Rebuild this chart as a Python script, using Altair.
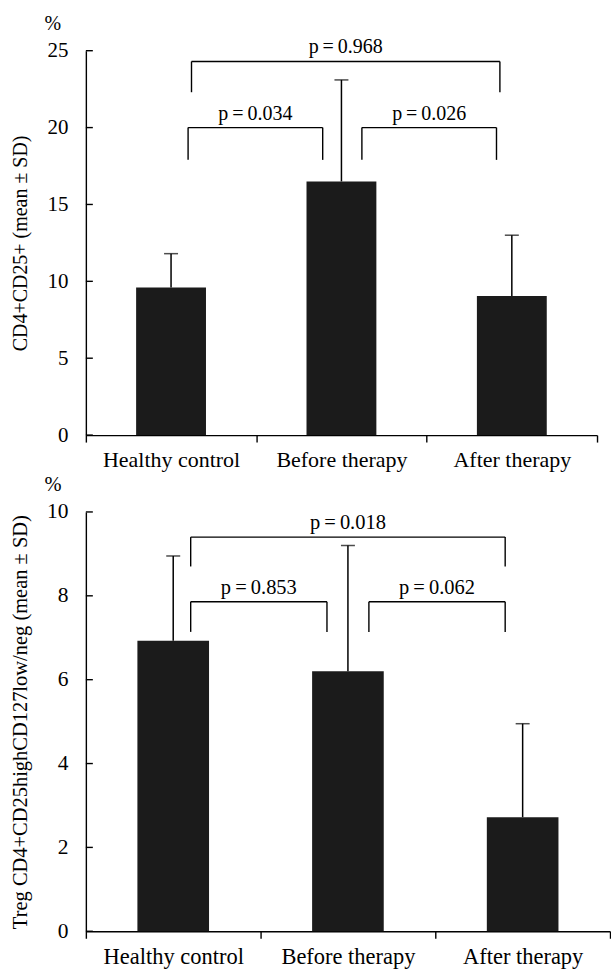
import altair as alt
import pandas as pd

FONT = "Liberation Serif"
BAR = "#1b1b1b"

categories = ["Healthy control", "Before therapy", "After therapy"]

# top panel: CD4+CD25+
top_mean = [9.6, 16.5, 9.05]
top_upper = [11.8, 23.1, 13.0]
top_ticks = [0, 5, 10, 15, 20, 25]
top_br_left = [0.12, 0.10, 1.12]
top_br_right = [1.93, 0.89, 1.91]
top_br_top = [24.3, 20.0, 20.0]
top_br_foot = [22.3, 17.9, 17.9]
top_br_label = ["p\u2009=\u20090.968", "p\u2009=\u20090.034", "p\u2009=\u20090.026"]

# bottom panel: Treg
bot_mean = [6.93, 6.2, 2.72]
bot_upper = [8.95, 9.2, 4.95]
bot_ticks = [0, 2, 4, 6, 8, 10]
bot_br_left = [0.10, 0.10, 1.12]
bot_br_right = [1.90, 0.88, 1.90]
bot_br_top = [9.4, 7.86, 7.86]
bot_br_foot = [8.7, 7.14, 7.14]
bot_br_label = ["p\u2009=\u20090.018", "p\u2009=\u20090.853", "p\u2009=\u20090.062"]


def panel(mean, upper, ticks, ymax, brl, brr, brt, brf, labels, title, w, h, fs):
    df = pd.DataFrame({"cat": categories, "mean": mean, "upper": upper})
    br = pd.DataFrame({"l": brl, "r": brr, "t": brt, "f": brf, "lab": labels})
    br["m"] = (br["l"] + br["r"]) / 2
    tk = pd.DataFrame({"v": ticks})
    ysc = alt.Scale(domain=[0, ymax], nice=False, zero=True)

    xb = alt.X(
        "cat:N", sort=categories,
        scale=alt.Scale(paddingInner=0, paddingOuter=0),
        axis=alt.Axis(title=None, labelAngle=0, tickBand="extent", tickSize=7,
                      labelPadding=7, labelFontSize=fs + 2, labelFont=FONT,
                      labelColor="black", domainColor="black", tickColor="black",
                      domainWidth=1.4, tickWidth=1.4, grid=False),
    )
    yaxis = alt.Axis(values=ticks, ticks=False, tickSize=0, labelPadding=18,
                     grid=False, title=title, titleX=-65, titleY=h / 2,
                     titleAngle=-90, titleBaseline="middle", titleAlign="center",
                     titleFont=FONT, titleFontSize=fs, titleFontWeight="normal",
                     titleColor="black", labelFont=FONT, labelFontSize=fs + 1,
                     labelColor="black", domainColor="black", domainWidth=1.4)

    bars = alt.Chart(df).mark_bar(color=BAR, width=alt.RelativeBandSize(0.41)).encode(
        x=xb, y=alt.Y("mean:Q", scale=ysc, axis=yaxis)
    )
    stem = alt.Chart(df).mark_rule(color="black", strokeWidth=1.5).encode(
        x=alt.X("cat:N", sort=categories), y=alt.Y("mean:Q", scale=ysc), y2="upper:Q"
    )
    cap = alt.Chart(df).mark_tick(color="black", size=14, thickness=1.5,
                                  orient="horizontal").encode(
        x=alt.X("cat:N", sort=categories), y=alt.Y("upper:Q", scale=ysc)
    )
    ytick = alt.Chart(tk).mark_rule(color="black", strokeWidth=1.4).encode(
        y=alt.Y("v:Q", scale=ysc), x=alt.value(0), x2=alt.value(7)
    )
    base = alt.layer(bars, stem, cap, ytick)

    qx = alt.Scale(domain=[-0.5, 2.5], nice=False, zero=False)
    hline = alt.Chart(br).mark_rule(color="black", strokeWidth=1.4).encode(
        x=alt.X("l:Q", scale=qx, axis=None), x2="r:Q", y=alt.Y("t:Q", scale=ysc)
    )
    lfoot = alt.Chart(br).mark_rule(color="black", strokeWidth=1.4).encode(
        x=alt.X("l:Q", scale=qx, axis=None), y=alt.Y("t:Q", scale=ysc), y2="f:Q"
    )
    rfoot = alt.Chart(br).mark_rule(color="black", strokeWidth=1.4).encode(
        x=alt.X("r:Q", scale=qx, axis=None), y=alt.Y("t:Q", scale=ysc), y2="f:Q"
    )
    ptext = alt.Chart(br).mark_text(font=FONT, fontSize=fs, color="black",
                                    baseline="bottom", dy=-4).encode(
        x=alt.X("m:Q", scale=qx, axis=None), y=alt.Y("t:Q", scale=ysc), text="lab:N"
    )
    brackets = alt.layer(hline, lfoot, rfoot, ptext)

    pct = alt.Chart(pd.DataFrame({"s": ["%"]})).mark_text(
        font=FONT, fontSize=fs, color="black", baseline="middle", align="center"
    ).encode(text="s:N", x=alt.value(-33), y=alt.value(-27))

    return alt.layer(base, brackets, pct).resolve_scale(
        x="independent"
    ).properties(width=w, height=h)


top = panel(top_mean, top_upper, top_ticks, 25, top_br_left, top_br_right, top_br_top,
            top_br_foot, top_br_label, "CD4+CD25+ (mean \u00b1 SD)", 512, 385, 20)
bottom = panel(bot_mean, bot_upper, bot_ticks, 10, bot_br_left, bot_br_right, bot_br_top,
               bot_br_foot, bot_br_label,
               "Treg CD4+CD25highCD127low/neg (mean \u00b1 SD)", 525, 420, 20.5)

chart = alt.vconcat(top, bottom, spacing=5).properties(
    padding={"left": 10, "top": 13, "right": 0, "bottom": 0},
    background="white",
).configure_view(stroke=None).configure_concat(spacing=5)

chart.save("out.html", embed_options={"renderer": "svg", "actions": False})
